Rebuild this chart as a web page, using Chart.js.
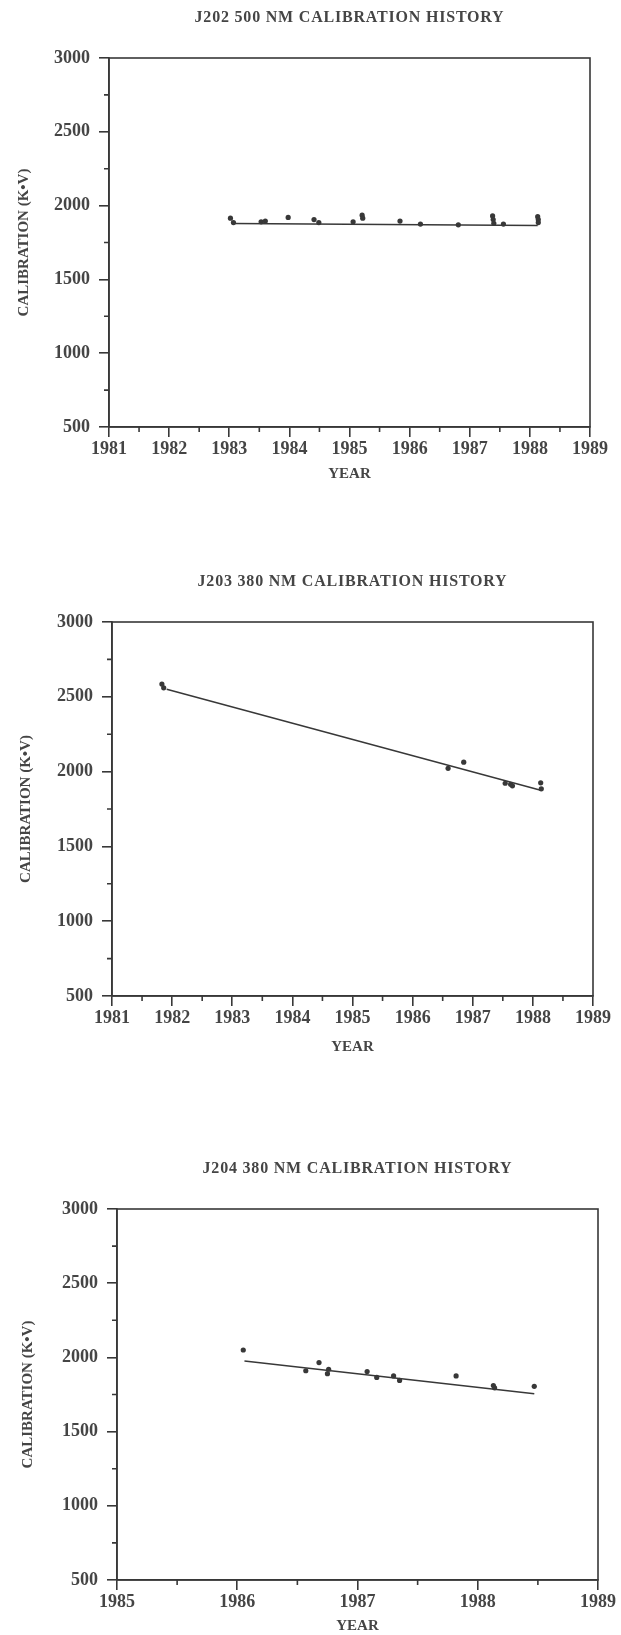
<!DOCTYPE html>
<html>
<head>
<meta charset="utf-8">
<script src="https://cdn.jsdelivr.net/npm/chart.js@4.4.1/dist/chart.umd.min.js"></script>
<style>
  html, body { margin: 0; padding: 0; background: #fff; }
  body { width: 621px; height: 1635px; position: relative; overflow: hidden; }
  canvas { position: absolute; left: 0; }
</style>
</head>
<body>
<canvas id="j202"></canvas>
<canvas id="j203"></canvas>
<canvas id="j204"></canvas>
<script>
// ---- data ----
const j202Years = [1983.02, 1983.07, 1983.53, 1983.60, 1983.98, 1984.41, 1984.49, 1985.06, 1985.21, 1985.22,
                   1985.84, 1986.18, 1986.81, 1987.38, 1987.39, 1987.40, 1987.56, 1988.13, 1988.14, 1988.14];
const j202Cal   = [1915, 1885, 1890, 1895, 1920, 1905, 1885, 1890, 1935, 1915,
                   1895, 1875, 1870, 1930, 1905, 1880, 1875, 1925, 1905, 1885];
const j202FitYears = [1983.07, 1988.13];
const j202FitCal   = [1878, 1866];

const j203Years = [1981.83, 1981.86, 1986.59, 1986.85, 1987.54, 1987.63, 1987.66, 1988.13, 1988.14];
const j203Cal   = [2585, 2560, 2022, 2063, 1922, 1915, 1905, 1925, 1885];
const j203FitYears = [1981.91, 1988.13];
const j203FitCal   = [2550, 1875];

const j204Years = [1986.05, 1986.57, 1986.68, 1986.75, 1986.76, 1987.08, 1987.16, 1987.30, 1987.35,
                   1987.82, 1988.13, 1988.14, 1988.47];
const j204Cal   = [2050, 1910, 1965, 1890, 1920, 1905, 1865, 1875, 1845,
                   1875, 1810, 1795, 1805];
const j204FitYears = [1986.06, 1988.47];
const j204FitCal   = [1975, 1755];

const calTicks   = [500, 1000, 1500, 2000, 2500, 3000];
const yearTicks8 = [1981, 1982, 1983, 1984, 1985, 1986, 1987, 1988, 1989];
const yearTicks4 = [1985, 1986, 1987, 1988, 1989];

const INK = '#383838';
const TEXT = '#454545';
const FONT = "'Liberation Serif', 'DejaVu Serif', serif";

// ---- frame, half-step ticks and heading ----
const framePlugin = {
  id: 'frame',
  afterDraw(chart, args, opts) {
    const { ctx, chartArea: a, scales: { x, y } } = chart;
    ctx.save();
    ctx.strokeStyle = INK;
    ctx.lineWidth = 1.6;
    ctx.strokeRect(a.left, a.top, a.right - a.left, a.bottom - a.top);

    ctx.beginPath();
    const xs = x.ticks.map(t => t.value);
    for (let i = 0; i < xs.length - 1; i++) {
      const px = x.getPixelForValue((xs[i] + xs[i + 1]) / 2);
      ctx.moveTo(px, a.bottom);
      ctx.lineTo(px, a.bottom + 5);
    }
    const ys = y.ticks.map(t => t.value);
    for (let i = 0; i < ys.length - 1; i++) {
      const py = y.getPixelForValue((ys[i] + ys[i + 1]) / 2);
      ctx.moveTo(a.left, py);
      ctx.lineTo(a.left - 5, py);
    }
    ctx.stroke();

    ctx.fillStyle = TEXT;
    ctx.font = 'bold 16px ' + FONT;
    ctx.textAlign = 'center';
    ctx.textBaseline = 'middle';
    ctx.letterSpacing = '0.8px';
    ctx.fillText(opts.text, (a.left + a.right) / 2, a.top - 40);
    ctx.restore();
  }
};

function makeChart(id, box, heading, years, cal, fitYears, fitCal, yearTicks) {
  const canvas = document.getElementById(id);
  canvas.width = 621;
  canvas.height = box.height;
  canvas.style.top = box.top + 'px';

  const pts = years.map((v, i) => ({ x: v, y: cal[i] }));
  const fit = fitYears.map((v, i) => ({ x: v, y: fitCal[i] }));
  const tickFont = { family: FONT, size: 18, weight: 'bold', lineHeight: 1.2 };
  const titleFont = { family: FONT, size: 15, weight: 'bold', lineHeight: 1.2 };
  const yearPad = Math.max(0, box.top + box.height - box.yearY - 9);

  return new Chart(canvas, {
    type: 'scatter',
    data: {
      datasets: [
        { data: fit, showLine: true, borderColor: INK, borderWidth: 1.5, pointRadius: 0 },
        { data: pts, pointStyle: 'circle', pointRadius: 2.6, backgroundColor: INK, borderWidth: 0 }
      ]
    },
    options: {
      responsive: false,
      animation: false,
      events: [],
      layout: { padding: { top: box.plotTop - box.top, right: 621 - box.plotRight, left: 0, bottom: 0 } },
      plugins: {
        legend: { display: false },
        tooltip: { enabled: false },
        frame: { text: heading }
      },
      scales: {
        x: {
          type: 'linear',
          min: yearTicks[0],
          max: yearTicks[yearTicks.length - 1],
          afterBuildTicks: s => { s.ticks = yearTicks.map(v => ({ value: v })); },
          afterFit: s => { s.height = box.top + box.height - box.plotBottom; },
          border: { display: true, color: INK, width: 1.6 },
          grid: { drawOnChartArea: false, drawTicks: true, tickLength: 10, color: INK, lineWidth: 1.6 },
          ticks: { color: TEXT, font: tickFont, padding: 2, maxRotation: 0, callback: v => String(v) },
          title: { display: true, text: 'YEAR', color: TEXT, font: titleFont, padding: { top: 0, bottom: yearPad } }
        },
        y: {
          min: 500,
          max: 3000,
          afterBuildTicks: s => { s.ticks = calTicks.map(v => ({ value: v })); },
          afterFit: s => { s.width = box.plotLeft; },
          border: { display: true, color: INK, width: 1.6 },
          grid: { drawOnChartArea: false, drawTicks: true, tickLength: 10, color: INK, lineWidth: 1.6 },
          ticks: { color: TEXT, font: tickFont, padding: 9, callback: v => String(v) },
          title: { display: true, text: 'CALIBRATION (K\u2022V)', color: TEXT, font: titleFont, padding: { top: box.titleX - 9, bottom: 0 } }
        }
      }
    },
    plugins: [framePlugin]
  });
}

makeChart('j202', { top: 0, height: 495, plotTop: 58, plotBottom: 427, plotLeft: 109, plotRight: 590, titleX: 24, yearY: 474 },
  'J202 500 NM CALIBRATION HISTORY', j202Years, j202Cal, j202FitYears, j202FitCal, yearTicks8);
makeChart('j203', { top: 564, height: 500, plotTop: 622, plotBottom: 996, plotLeft: 112, plotRight: 593, titleX: 26, yearY: 1047 },
  'J203 380 NM CALIBRATION HISTORY', j203Years, j203Cal, j203FitYears, j203FitCal, yearTicks8);
makeChart('j204', { top: 1151, height: 484, plotTop: 1209, plotBottom: 1580, plotLeft: 117, plotRight: 598, titleX: 28, yearY: 1626 },
  'J204 380 NM CALIBRATION HISTORY', j204Years, j204Cal, j204FitYears, j204FitCal, yearTicks4);
</script>
</body>
</html>
